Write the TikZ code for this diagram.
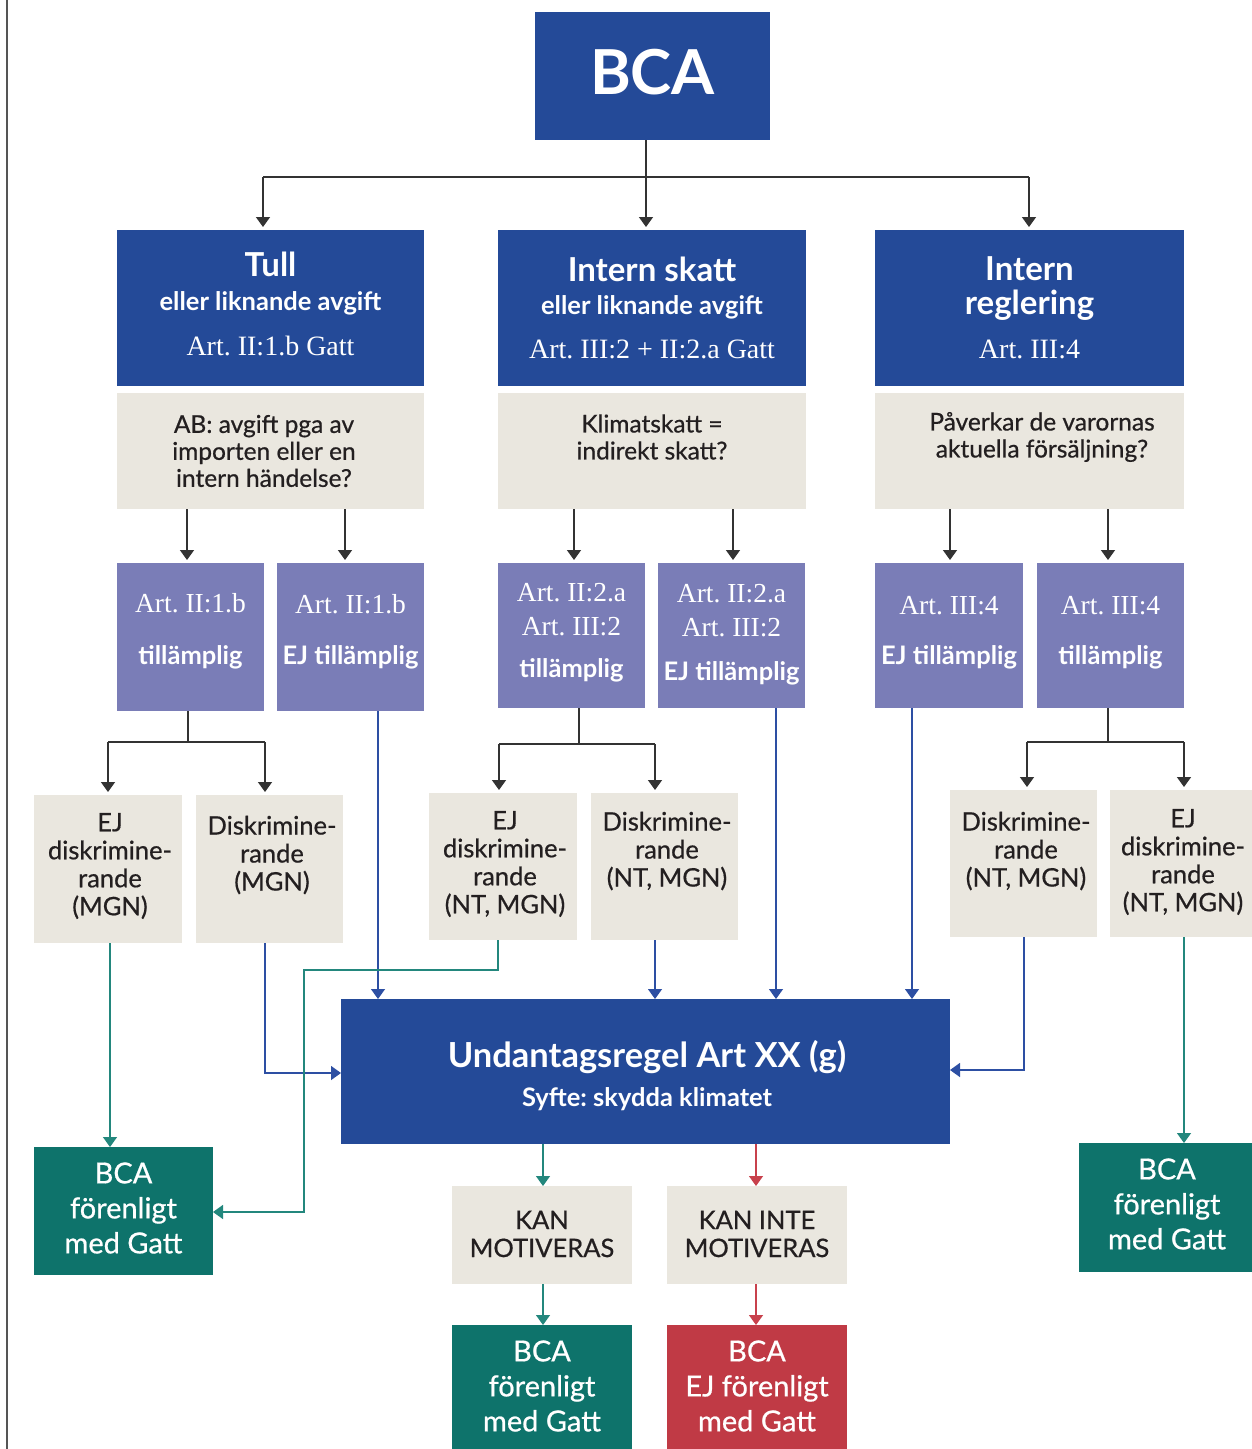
\documentclass[tikz,border=0pt]{standalone}
\usepackage{fontspec}
\newfontfamily\gs{Lato}
\newfontfamily\gsm{Lato}[FakeBold=0.6]
\newfontfamily\srf{Liberation Serif}
\usetikzlibrary{arrows.meta}
\definecolor{cblue}{HTML}{244A98}
\definecolor{cpurple}{HTML}{7A7DB7}
\definecolor{cgray}{HTML}{EAE7DF}
\definecolor{cteal}{HTML}{0E736B}
\definecolor{cred}{HTML}{C03A45}
\definecolor{cline}{HTML}{333333}
\definecolor{clblue}{HTML}{2D4FA3}
\definecolor{clteal}{HTML}{23877D}
\definecolor{clred}{HTML}{C8414C}
\definecolor{ctext}{HTML}{231F20}
\definecolor{cborder}{HTML}{555555}
\newcommand\fsz[2]{\fontsize{#1}{#2}\selectfont}
\frenchspacing
\tikzset{
  sz/.style 2 args={minimum width=#1pt, minimum height=#2pt},
  boxbase/.style={rectangle, inner sep=0pt, outer sep=0pt, draw=none},
  bbox/.style={boxbase, fill=cblue},
  pbox/.style={boxbase, fill=cpurple},
  gbox/.style={boxbase, fill=cgray},
  tbox/.style={boxbase, fill=cteal},
  rbox/.style={boxbase, fill=cred},
  wt/.style={text=white, align=center, inner sep=0pt},
  dt/.style={text=ctext, align=center, inner sep=0pt},
  hbold/.style={font=\gs\bfseries\fsz{33}{38}},
  hsub/.style={font=\gs\bfseries\fsz{25.5}{28}},
  serif/.style={font=\srf\frenchspacing\fsz{28}{34}},
  pserif/.style={font=\srf\frenchspacing\fsz{27.5}{34}},
  qtext/.style={dt, font=\gsm\fsz{24.5}{27}},
  dtext/.style={dt, font=\gsm\fsz{25.5}{28}},
  ptill/.style={wt, font=\gs\bfseries\fsz{25.5}{28}},
  restext/.style={wt, font=\gsm\fsz{29}{35}},
  tip/.style={-{Triangle[width=14pt,length=10pt]}},
  lnK/.style={draw=cline, line width=1.6pt},
  arrK/.style={lnK, tip, shorten >=3pt},
  arrB/.style={draw=clblue, line width=1.4pt, tip},
  arrT/.style={draw=clteal, line width=1.4pt, tip},
  arrR/.style={draw=clred, line width=1.4pt, tip},
}
\begin{document}
\begin{tikzpicture}[x=1pt,y=-1pt]
\useasboundingbox (0,0) rectangle (1252,1449);
\draw[draw=cborder, line width=1.5pt] (7,0) -- (7,1449);

% --- boxes ---
\node[bbox, sz={235}{128}] (bca) at (652.5,76) {};
\node[bbox, sz={307}{156}] (tull) at (270.5,308) {};
\node[bbox, sz={308}{156}] (skatt) at (652,308) {};
\node[bbox, sz={309}{156}] (regl) at (1029.5,308) {};
\node[gbox, sz={307}{116}] (tullQ) at (270.5,451) {};
\node[gbox, sz={308}{116}] (skattQ) at (652,451) {};
\node[gbox, sz={309}{116}] (reglQ) at (1029.5,451) {};

\node[pbox, sz={147}{148}] (tA) at (190.5,637) {};
\node[pbox, sz={147}{148}] (tB) at (350.5,637) {};
\node[pbox, sz={147}{145}] (sA) at (571.5,635.5) {};
\node[pbox, sz={147}{145}] (sB) at (731.5,635.5) {};
\node[pbox, sz={148}{145}] (rA) at (949,635.5) {};
\node[pbox, sz={147}{145}] (rB) at (1110.5,635.5) {};

\node[gbox, sz={148}{148}] (d1) at (108,869) {};
\node[gbox, sz={147}{148}] (d2) at (269.5,869) {};
\node[gbox, sz={148}{147}] (d3) at (503,866.5) {};
\node[gbox, sz={147}{147}] (d4) at (664.5,866.5) {};
\node[gbox, sz={147}{147}] (d5) at (1023.5,863.5) {};
\node[gbox, sz={142}{147}] (d6) at (1181,863.5) {};

\node[bbox, sz={609}{145}] (und) at (645.5,1071.5) {};

\node[tbox, sz={179}{128}] (g1) at (123.5,1211) {};
\node[tbox, sz={173}{129}] (g2) at (1165.5,1207.5) {};
\node[gbox, sz={180}{98}] (k1) at (542,1235) {};
\node[gbox, sz={180}{98}] (k2) at (757,1235) {};
\node[tbox, sz={180}{124}] (f1) at (542,1387) {};
\node[rbox, sz={180}{124}] (f2) at (757,1387) {};

% --- texts ---
\node[wt, font=\gs\bfseries\fsz{62}{62}] (bcaT) at (652.5,72) {BCA};

\node[wt, hbold] (tullT1) at (270.5,264) {Tull};
\node[wt, hsub] (tullT2) at (270.5,303) {eller liknande avgift};
\node[wt, serif] (tullT3) at (270.5,346) {Art. II:1.b Gatt};

\node[wt, hbold] (skattT1) at (652,269) {Intern skatt};
\node[wt, hsub] (skattT2) at (652,307) {eller liknande avgift};
\node[wt, serif] (skattT3) at (652,349) {Art. III:2 + II:2.a Gatt};

\node[wt, hbold] (reglT1) at (1029.5,269) {Intern};
\node[wt, hbold] (reglT2) at (1029.5,305) {reglering};
\node[wt, serif] (reglT3) at (1029.5,349) {Art. III:4};

\node[qtext] (q1) at (264,451) {AB: avgift pga av\\importen eller en\\intern händelse?};
\node[qtext] (q2) at (652,437) {Klimatskatt =\\indirekt skatt?};
\node[qtext] (q3) at (1042,437) {Påverkar de varornas\\aktuella försäljning?};

\node[wt, pserif] (tAT1) at (190.5,603) {Art. II:1.b};
\node[ptill] (tAT2) at (190.5,657) {tillämplig};
\node[wt, pserif] (tBT1) at (350.5,604) {Art. II:1.b};
\node[ptill] (tBT2) at (350.5,657) {EJ tillämplig};
\node[wt, pserif] (sAT1) at (571.5,610) {Art. II:2.a\\Art. III:2};
\node[ptill] (sAT2) at (571.5,670) {tillämplig};
\node[wt, pserif] (sBT1) at (731.5,611) {Art. II:2.a\\Art. III:2};
\node[ptill] (sBT2) at (731.5,673) {EJ tillämplig};
\node[wt, pserif] (rAT1) at (949,606) {Art. III:4};
\node[ptill] (rAT2) at (949,657) {EJ tillämplig};
\node[wt, pserif] (rBT1) at (1110.5,606) {Art. III:4};
\node[ptill] (rBT2) at (1110.5,657) {tillämplig};

\node[dtext] (d1T) at (110,866) {EJ\\diskrimine-\\rande\\(MGN)};
\node[dtext] (d2T) at (272,855) {Diskrimine-\\rande\\(MGN)};
\node[dtext] (d3T) at (505,864) {EJ\\diskrimine-\\rande\\(NT, MGN)};
\node[dtext] (d4T) at (667,851) {Diskrimine-\\rande\\(NT, MGN)};
\node[dtext] (d5T) at (1026,851) {Diskrimine-\\rande\\(NT, MGN)};
\node[dtext] (d6T) at (1183,862) {EJ\\diskrimine-\\rande\\(NT, MGN)};

\node[wt, font=\gs\bfseries\fsz{34.5}{34.5}] (undT1) at (647,1057) {Undantagsregel Art XX (g)};
\node[wt, font=\gs\bfseries\fsz{25.5}{25.5}] (undT2) at (647,1099) {Syfte: skydda klimatet};

\node[dtext] (k1T) at (542,1234) {KAN\\MOTIVERAS};
\node[dtext] (k2T) at (757,1234) {KAN INTE\\MOTIVERAS};
\node[restext] (g1T) at (123.5,1208) {BCA\\förenligt\\med Gatt};
\node[restext] (g2T) at (1167,1204) {BCA\\förenligt\\med Gatt};
\node[restext] (f1T) at (542,1386) {BCA\\förenligt\\med Gatt};
\node[restext] (f2T) at (757,1386) {BCA\\EJ förenligt\\med Gatt};

% --- black connectors ---
\coordinate (j0) at (646,177);
\coordinate (jL) at (263,177);
\coordinate (jR) at (1029,177);
\draw[lnK] (j0 |- bca.south) -- (j0);
\draw[lnK] (jL) -- (jR);
\draw[arrK] (jL) -- (jL |- tull.north);
\draw[arrK] (j0) -- (j0 |- skatt.north);
\draw[arrK] (jR) -- (jR |- regl.north);

\draw[arrK] (187,0 |- tullQ.south) -- (187,0 |- tA.north);
\draw[arrK] (345,0 |- tullQ.south) -- (345,0 |- tB.north);
\draw[arrK] (574,0 |- skattQ.south) -- (574,0 |- sA.north);
\draw[arrK] (733,0 |- skattQ.south) -- (733,0 |- sB.north);
\draw[arrK] (950,0 |- reglQ.south) -- (950,0 |- rA.north);
\draw[arrK] (1108,0 |- reglQ.south) -- (1108,0 |- rB.north);

\coordinate (b1) at (188,742);
\coordinate (b1l) at (108,742);
\coordinate (b1r) at (265,742);
\draw[lnK] (b1 |- tA.south) -- (b1);
\draw[lnK] (b1l) -- (b1r);
\draw[arrK] (b1l) -- (b1l |- d1.north);
\draw[arrK] (b1r) -- (b1r |- d2.north);

\coordinate (b2) at (579,744);
\coordinate (b2l) at (499,744);
\coordinate (b2r) at (655,744);
\draw[lnK] (b2 |- sA.south) -- (b2);
\draw[lnK] (b2l) -- (b2r);
\draw[arrK] (b2l) -- (b2l |- d3.north);
\draw[arrK] (b2r) -- (b2r |- d4.north);

\coordinate (b3) at (1108,742);
\coordinate (b3l) at (1027,742);
\coordinate (b3r) at (1184,742);
\draw[lnK] (b3 |- rB.south) -- (b3);
\draw[lnK] (b3l) -- (b3r);
\draw[arrK] (b3l) -- (b3l |- d5.north);
\draw[arrK] (b3r) -- (b3r |- d6.north);

% --- blue connectors ---
\draw[arrB] (378,0 |- tB.south) -- (378,0 |- und.north);
\draw[arrB] (265,0 |- d2.south) -- (265,1073) -- (und.west |- 0,1073);
\draw[arrB] (655,0 |- d4.south) -- (655,0 |- und.north);
\draw[arrB] (776,0 |- sB.south) -- (776,0 |- und.north);
\draw[arrB] (912,0 |- rA.south) -- (912,0 |- und.north);
\draw[arrB] (1024,0 |- d5.south) -- (1024,1070) -- (und.east |- 0,1070);

% --- teal / red connectors ---
\draw[arrT] (110,0 |- d1.south) -- (110,0 |- g1.north);
\draw[arrT] (498,0 |- d3.south) -- (498,970) -- (304,970) -- (304,1212) -- (g1.east |- 0,1212);
\draw[arrT] (1184,0 |- d6.south) -- (1184,0 |- g2.north);
\draw[arrT] (543,0 |- und.south) -- (543,0 |- k1.north);
\draw[arrT] (543,0 |- k1.south) -- (543,0 |- f1.north);
\draw[arrR] (756,0 |- und.south) -- (756,0 |- k2.north);
\draw[arrR] (756,0 |- k2.south) -- (756,0 |- f2.north);
\end{tikzpicture}
\end{document}
